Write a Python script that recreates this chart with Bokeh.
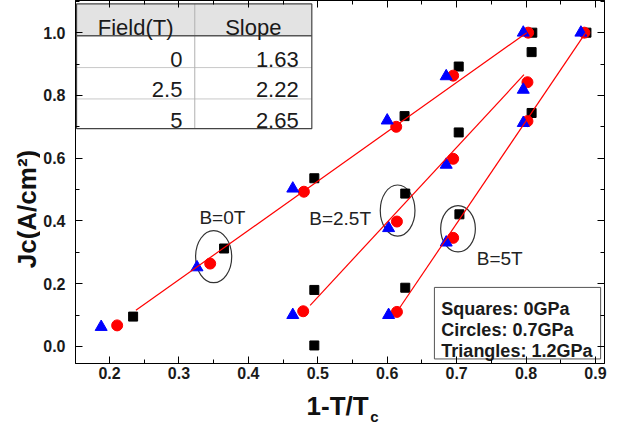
import math
from bokeh.plotting import figure
from bokeh.layouts import row, column
from bokeh.models import (Range1d, LinearAxis, ColumnDataSource, SingleIntervalTicker,
                          PrintfTickFormatter, CustomJSTickFormatter)
from bokeh.core.properties import value
from bokeh.embed import file_html
from bokeh.resources import INLINE

# ---------------- data ----------------
square_x = [0.234, 0.365, 0.495, 0.625, 0.703, 0.809,
            0.495, 0.626, 0.703, 0.808,
            0.495, 0.626, 0.704, 0.808, 0.887]
square_y = [0.095, 0.312, 0.536, 0.734, 0.892, 1.000,
            0.180, 0.487, 0.682, 0.938,
            0.003, 0.187, 0.421, 0.744, 1.000]

circle_x = [0.211, 0.345, 0.480, 0.613, 0.695, 0.803,
            0.479, 0.614, 0.695, 0.802,
            0.614, 0.695, 0.802, 0.884]
circle_y = [0.067, 0.264, 0.493, 0.700, 0.863, 1.000,
            0.112, 0.398, 0.598, 0.842,
            0.110, 0.346, 0.718, 1.000]

triangle_x = [0.188, 0.326, 0.464, 0.600, 0.685, 0.796,
              0.464, 0.602, 0.685, 0.796,
              0.602, 0.685, 0.796, 0.879]
triangle_y = [0.062, 0.252, 0.503, 0.720, 0.861, 1.000,
              0.100, 0.377, 0.579, 0.818,
              0.100, 0.331, 0.712, 1.000]

fit_x = [[0.238, 0.801], [0.489, 0.797], [0.617, 0.886]]
fit_y = [[0.115, 1.000], [0.131, 0.866], [0.120, 1.000]]

ellipse_x = [0.350, 0.615, 0.702]
ellipse_y = [0.286, 0.433, 0.375]
ellipse_w = [0.052, 0.050, 0.050]
ellipse_h = [0.166, 0.163, 0.148]

field_labels = ["B=0T", "B=2.5T", "B=5T"]

table_header = ["Field(T)", "Slope"]
table_fields = ["0", "2.5", "5"]
table_slopes = ["1.63", "2.22", "2.65"]

legend_lines = ["Squares: 0GPa", "Circles: 0.7GPa", "Triangles: 1.2GPa"]

x_label = "1-T/T"
x_label_sub = "c"
y_label = "Jc(A/cm\u00b2)"

FONT = "Liberation Sans"

# ---------------- layout sizes ----------------
YW = 40                 # width of the y-title strip
MW, MH = 568, 385       # main figure
XH = 40                 # height of the x-title strip
TOTAL_H = MH + XH
ML, MR, MT, MB = 33, 4, 0, 22
FRAME_BOTTOM = MH - MB

x_rng = Range1d(0.151, 0.913)
y_rng = Range1d(-0.0545, 1.1025)

# ---------------- main figure ----------------
p = figure(width=MW, height=MH, x_range=x_rng, y_range=y_rng,
           output_backend="svg", toolbar_location=None,
           min_border_left=ML, min_border_right=MR, min_border_top=MT, min_border_bottom=MB)
p.xgrid.visible = False
p.ygrid.visible = False
p.outline_line_color = "black"
p.background_fill_color = "white"
p.border_fill_color = "white"

def style_axis(ax, show_labels):
    ax.axis_line_color = "black"
    ax.major_tick_in = 7
    ax.major_tick_out = 0
    ax.minor_tick_in = 4
    ax.minor_tick_out = 0
    ax.major_tick_line_color = "black"
    ax.minor_tick_line_color = "black"
    if show_labels:
        ax.major_label_text_font = FONT
        ax.major_label_text_font_style = "bold"
        ax.major_label_text_font_size = "16px"
        ax.major_label_text_color = "#1a1a1a"
    else:
        ax.formatter = CustomJSTickFormatter(code="return ''")
        ax.major_label_text_font_size = "0px"
        ax.major_label_standoff = 0

fmt = PrintfTickFormatter(format="%.1f")
p.xaxis[0].ticker = SingleIntervalTicker(interval=0.1, num_minor_ticks=2)
p.xaxis[0].formatter = fmt
p.xaxis[0].major_label_standoff = 3
style_axis(p.xaxis[0], True)
p.yaxis[0].ticker = SingleIntervalTicker(interval=0.2, num_minor_ticks=2)
p.yaxis[0].formatter = fmt
p.yaxis[0].major_label_standoff = 10
style_axis(p.yaxis[0], True)

top_ax = LinearAxis(ticker=SingleIntervalTicker(interval=0.1, num_minor_ticks=2))
style_axis(top_ax, False)
p.add_layout(top_ax, "above")
right_ax = LinearAxis(ticker=SingleIntervalTicker(interval=0.2, num_minor_ticks=2))
style_axis(right_ax, False)
p.add_layout(right_ax, "right")

# ---------------- table (top-left) ----------------
TL, TC, TR = 0.1525, 0.3228, 0.4914
TT, TH, R1, R2, TB = 1.0917, 0.9902, 0.8887, 0.7887, 0.6942
p.quad(left=[TL], right=[TR], top=[TT], bottom=[TB], fill_color="white", line_color=None)
p.quad(left=[TL], right=[TR], top=[TT], bottom=[TH], fill_color="#e3e3e3", line_color=None)
p.segment(x0=[TL, TL], y0=[R1, R2], x1=[TR, TR], y1=[R1, R2], line_color="#c8c8c8", line_width=1)
p.segment(x0=[TC], y0=[TT], x1=[TC], y1=[TB], line_color="#b0b0b0", line_width=1)
p.segment(x0=[TL], y0=[TH], x1=[TR], y1=[TH], line_color="#555555", line_width=1.5)
p.quad(left=[TL], right=[TR], top=[TT], bottom=[TB], fill_color=None, line_color="#444444", line_width=1.2)

hdr_src = ColumnDataSource(dict(x=[(TL + TC) / 2, (TC + TR) / 2], y=[1.0173, 1.0173], t=table_header))
p.text(x="x", y="y", text="t", source=hdr_src, text_font=value(FONT), text_font_size=value("22px"),
       text_color="#1a1a1a", text_align="center", text_baseline="alphabetic")
row_y = [0.9148, 0.8173, 0.7194]
f_src = ColumnDataSource(dict(x=[0.305] * 3, y=row_y, t=table_fields))
p.text(x="x", y="y", text="t", source=f_src, text_font=value(FONT), text_font_size=value("22px"),
       text_color="#1a1a1a", text_align="right", text_baseline="alphabetic")
s_src = ColumnDataSource(dict(x=[0.4725] * 3, y=row_y, t=table_slopes))
p.text(x="x", y="y", text="t", source=s_src, text_font=value(FONT), text_font_size=value("22px"),
       text_color="#1a1a1a", text_align="right", text_baseline="alphabetic")

# ---------------- legend box (bottom-right) ----------------
p.quad(left=[0.668], right=[0.9074], top=[0.1880], bottom=[-0.040],
       fill_color="white", line_color="#555555", line_width=1)
leg_src = ColumnDataSource(dict(x=[0.678] * 3, y=[0.1200, 0.0520, -0.0160], t=legend_lines))
p.text(x="x", y="y", text="t", source=leg_src, text_font=value(FONT), text_font_style="bold",
       text_font_size=value("18px"), text_color="#1a1a1a", text_align="left", text_baseline="alphabetic")

# ---------------- ellipses & field labels ----------------
p.ellipse(x=ellipse_x, y=ellipse_y, width=ellipse_w, height=ellipse_h,
          fill_color=None, line_color="#333333", line_width=1.2)
lab_src = ColumnDataSource(dict(x=[0.3295, 0.4877, 0.729], y=[0.412, 0.407, 0.279], t=field_labels))
p.text(x="x", y="y", text="t", source=lab_src, text_font=value(FONT), text_font_size=value("19px"),
       text_color="#222222", text_align="left", text_baseline="alphabetic")

# ---------------- data marks ----------------
p.scatter(square_x, square_y, marker="square", size=9, fill_color="black", line_color="black")
p.scatter(circle_x, circle_y, marker="circle", size=11, fill_color="#ff0000", line_color="#ff0000")
p.scatter(triangle_x, triangle_y, marker="triangle", size=12, fill_color="#0000ff", line_color="#0000ff")
p.multi_line(xs=fit_x, ys=fit_y, line_color="#ff0000", line_width=1.2)

# ---------------- x-title strip (shares the x scale) ----------------
xf = figure(width=MW, height=XH, x_range=x_rng, y_range=Range1d(0, XH),
            output_backend="svg", toolbar_location=None,
            x_axis_location=None, y_axis_location=None,
            min_border_left=ML, min_border_right=MR, min_border_top=0, min_border_bottom=0)
xf.grid.visible = False
xf.outline_line_color = None
main_base = FRAME_BOTTOM + 42 - MH      # baseline of "1-T/T", px below the strip top
sub_base = FRAME_BOTTOM + 53 - MH       # baseline of the subscript
xt_src = ColumnDataSource(dict(x=[0.4839], y=[XH - main_base], t=[x_label]))
xf.text(x="x", y="y", text="t", source=xt_src, text_font=value(FONT), text_font_style="bold",
        text_font_size=value("26px"), text_color="#111111", text_align="left", text_baseline="alphabetic")
xs_src = ColumnDataSource(dict(x=[0.5755], y=[XH - sub_base], t=[x_label_sub]))
xf.text(x="x", y="y", text="t", source=xs_src, text_font=value(FONT), text_font_style="bold",
        text_font_size=value("15px"), text_color="#111111", text_align="left", text_baseline="alphabetic")

# ---------------- y-title strip ----------------
yf = figure(width=YW, height=TOTAL_H, x_range=Range1d(0, YW), y_range=Range1d(0, TOTAL_H),
            output_backend="svg", toolbar_location=None,
            x_axis_location=None, y_axis_location=None,
            min_border_left=0, min_border_right=0, min_border_top=0, min_border_bottom=0)
yf.grid.visible = False
yf.outline_line_color = None
frame_cy = (4 + FRAME_BOTTOM) / 2
yt_src = ColumnDataSource(dict(x=[26], y=[TOTAL_H - (frame_cy + 25)], t=[y_label]))
yf.text(x="x", y="y", text="t", source=yt_src, angle=math.pi / 2, text_font=value(FONT),
        text_font_style="bold", text_font_size=value("26px"), text_color="#111111",
        text_align="center", text_baseline="middle")

layout = row(yf, column(p, xf))
open("out.html", "w").write(file_html(layout, INLINE))
